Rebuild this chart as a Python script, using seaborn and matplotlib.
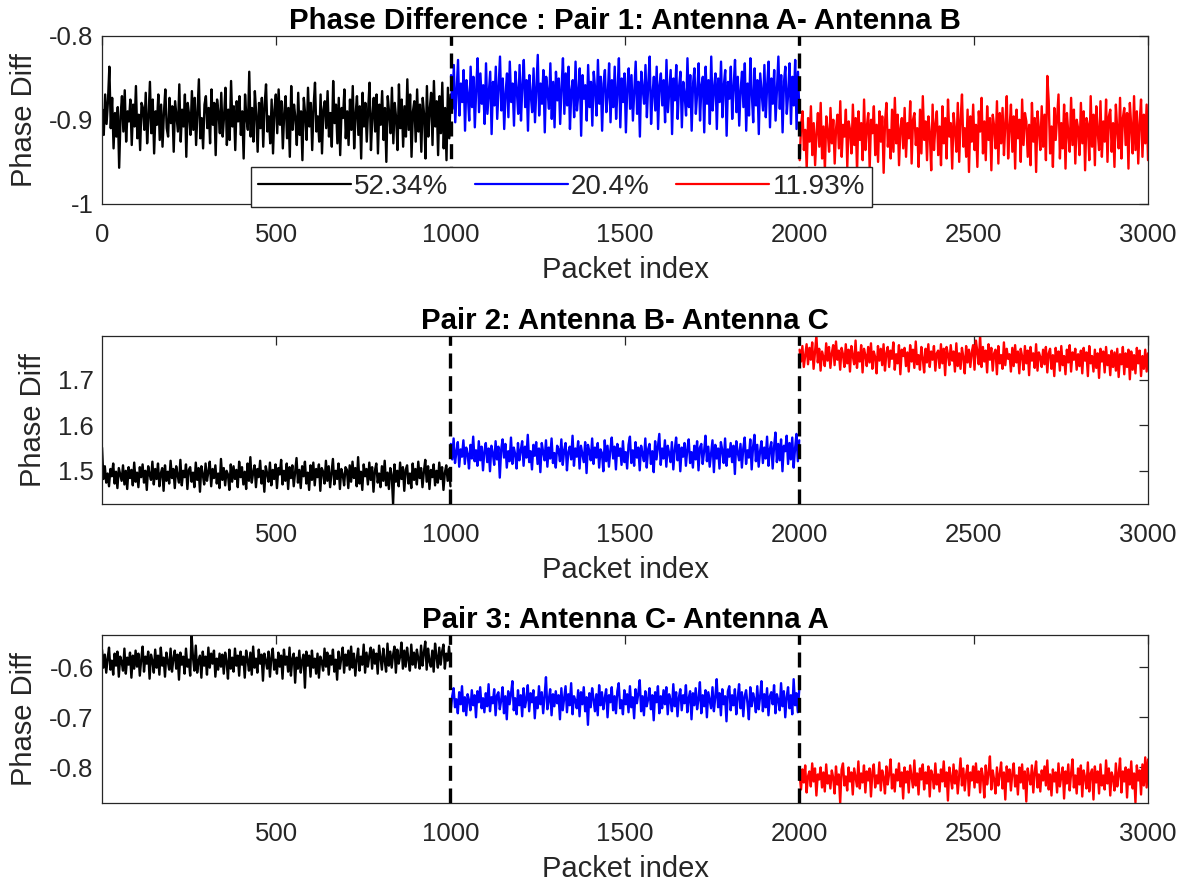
import numpy as np
import pandas as pd
import matplotlib
matplotlib.use("Agg")
import matplotlib.pyplot as plt
from matplotlib.ticker import MultipleLocator, FuncFormatter
import seaborn as sns

# ---------------------------------------------------------------------------
# Data: phase difference per packet for three antenna pairs, recorded in three
# consecutive 1000-packet segments (one colour per segment).
# ---------------------------------------------------------------------------
SEGMENT_LABELS = ["52.34%", "20.4%", "11.93%"]
SEGMENT_COLORS = ["#000000", "#0000ff", "#ff0000"]
SEGMENT_STARTS = [1, 1001, 2001]
SEGMENT_ENDS = [1000, 2000, 3000]
BOUNDARIES = [1000, 2000]

PAIR_TITLES = [
    "Phase Difference : Pair 1: Antenna A- Antenna B",
    "Pair 2: Antenna B- Antenna C",
    "Pair 3: Antenna C- Antenna A",
]

# baseline phase difference (rad) of each segment
PAIR1_BASE = [-0.900, -0.873, -0.918]
PAIR2_BASE = [1.490, 1.535, 1.748]
PAIR3_BASE = [-0.591, -0.668, -0.822]

# per-sample deviation from the segment baseline (mrad), 250 samples/segment
P1_BLACK = [
    12, -18, 30, -5, 22, 63, -10, 26, -34, 8, -20, 15, -57, 4, 28, -14, 35, -26, 10, -2, 24, -30, 18, -8, 40,
    -22, 6, -36, 20, 14, -12, 32, -28, 2, 45, -16, 24, -40, 10, -6, 30, -24, 18, -32, 8, 36, -10, -20, 26, -4,
    16, -38, 22, 4, -14, 42, -26, 12, -8, 30, -44, 20, 6, -18, 34, -12, 26, -30, 10, 48, -22, 2, -34, 18, 28,
    -10, 14, -28, 36, -6, 20, -42, 24, 8, -16, 32, -20, 4, 38, -30, 12, -24, 46, -8, 16, -36, 22, -2, 28, -18,
    10, -46, 30, 2, -12, 57, -20, 14, -26, 34, 6, -38, 20, -10, 26, -32, 18, 42, -14, 4, -28, 24, -40, 12, 30,
    -16, 36, -6, 22, -34, 8, 28, -22, 14, -44, 40, -12, 18, 2, -30, 32, -18, 10, -48, 26, 6, -24, 38, -8, 20,
    -36, 16, 44, -14, 4, -26, 30, -40, 12, 22, -10, 34, -20, 8, -32, 46, -4, 18, -28, 26, -42, 14, 2, 36, -22,
    10, -30, 24, -12, 40, -34, 6, 28, -18, 16, -46, 32, -8, 20, -26, 12, 44, -36, 4, 26, -14, 30, -40, 18, -6,
    34, -24, 14, -50, 28, 8, -16, 38, -28, 20, 2, -36, 42, -10, 24, -32, 16, -20, 48, -12, 30, -44, 10, 22, -26,
    36, -14, 18, -38, 26, 6, -46, 40, -20, 12, 32, -30, 46, -8, 22, -42, 28, -16, 44, -34, 14, -48, 38, -22, 30,
]
P1_BLUE = [
    26, -14, 38, -30, 8, 44, -22, 16, -6, 32, -40, 20, 2, -28, 36, -12, 24, -36, 10, 46, -18, 28, -8, 14, -32,
    40, -20, 6, 30, -44, 18, -10, 36, -26, 12, 48, -16, 22, -38, 4, 28, -24, 42, -6, 16, -34, 30, 8, -20, 38,
    -28, 14, 44, -12, 20, -40, 26, 2, -18, 34, -30, 10, 50, -22, 16, -8, 32, -42, 24, 6, -14, 40, -26, 18, -36,
    30, -4, 22, -32, 12, 46, -20, 28, -10, 36, -38, 8, 20, -24, 42, -16, 4, 34, -46, 26, -2, 14, -28, 38, -12,
    18, -34, 30, 10, -22, 44, -8, 24, -40, 16, 32, -18, 2, 40, -30, 20, -12, 36, -26, 8, 46, -36, 22, -6, 28,
    -42, 12, 34, -14, 26, -28, 6, 42, -20, 18, -47, 30, 10, -8, 38, -24, 16, 48, -32, 4, 24, -16, 36, -38, 14,
    28, -10, 20, -30, 44, -18, 8, 32, -44, 22, -4, 38, -26, 12, 30, -36, 18, 2, -22, 46, -12, 26, -40, 16, 34,
    -20, 6, 40, -28, 14, 24, -42, 36, -8, 20, -32, 48, -16, 10, 28, -38, 22, -6, 42, -24, 14, 32, -46, 18, -2,
    36, -26, 12, 44, -18, 24, -34, 8, 30, -12, 40, -40, 16, -22, 46, 4, -30, 34, -10, 20, -44, 28, 6, -16, 38,
    -24, 14, 42, -36, 22, -8, 32, -28, 10, 48, -14, 26, -42, 18, 36, -20, 4, 40, -32, 24, -10, 44, -38, 30, -18,
]
P1_RED = [
    -30, 12, 28, -18, 6, -40, 20, -8, 34, -24, 14, -36, 2, 26, -14, 38, -28, 10, -42, 22, 4, -20, 32, -10, 18,
    -34, 8, 24, -16, 40, -26, 12, -2, 30, -38, 16, 6, -22, 36, -12, 20, -44, 28, -6, 14, -30, 42, -18, 10, 26,
    -40, 18, 2, 34, -24, 12, -32, 28, -8, 22, -45, 16, 38, -14, 6, -28, 30, -20, 44, -10, 24, -36, 8, 20, -16,
    32, -26, 14, -4, 40, -34, 18, 26, -12, 8, -38, 30, -22, 46, -6, 16, -30, 22, 2, -42, 36, -18, 12, 28, -24,
    10, -36, 34, -10, 20, -28, 42, -2, 14, -40, 26, 6, -20, 38, -32, 18, 48, -14, 8, -26, 30, -44, 22, -8, 36,
    -18, 12, -38, 28, 4, 44, -22, 16, -30, 34, -6, 20, -42, 24, 10, -16, 40, -34, 26, -10, 32, -24, 14, 46, -28,
    8, 36, -20, 22, -40, 30, -4, 18, -32, 42, -12, 26, 16, -26, 12, -36, 38, -8, 20, -44, 28, 6, -18, 34, -14,
    24, -30, 70, 40, -22, 10, -38, 32, -6, 22, 48, -28, 14, -16, 36, -40, 26, 2, -20, 44, -12, 30, -34, 18, 8,
    -24, 38, -10, 28, -42, 20, 12, -30, 46, -14, 24, -36, 34, 4, -18, 40, -26, 16, -8, 42, -32, 22, 30, -20, 14,
    -38, 36, 6, -16, 44, -28, 20, 32, -12, 26, -40, 38, 10, -22, 46, -18, 28, -34, 14, 42, -26, 24, -10, 36, -30,
]
P2_BLACK = [
    61, -8, 20, -16, 4, -24, 14, -2, 26, -18, 8, -28, 16, 2, -12, 22, -20, 10, -30, 18, -6, 12, -22, 28, -14,
    6, -26, 18, -4, 24, -16, 10, -32, 20, 2, -10, 30, -20, 14, -8, 26, -24, 4, 16, -34, 22, -12, 8, -18, 32,
    -6, 14, -28, 20, 0, -16, 34, -22, 10, -4, 24, -30, 12, 18, -14, 6, -26, 28, -10, 16, -36, 20, 2, -20, 26,
    -12, 8, 30, -24, 14, -6, 22, -18, 4, -28, 36, -10, 16, -22, 10, 2, -32, 24, -14, 20, -8, 12, -26, 30, -4,
    18, -20, 8, -30, 26, -12, 40, -16, 6, 22, -26, 14, -4, 32, -18, 10, -36, 20, 4, -14, 28, -22, 12, -8, 24,
    -28, 16, 2, 34, -20, 10, -12, 26, -30, 18, -6, 22, -24, 8, 38, -16, 12, -28, 20, -2, 30, -18, 6, -32, 22,
    -10, 28, -22, 14, -4, 24, -34, 16, 8, -18, 32, -12, 20, -26, 6, 36, -20, 10, -8, 26, -30, 14, 2, -22, 18,
    12, -28, 22, -14, 30, -6, 16, -24, 40, -18, 8, -32, 24, -2, 14, -20, 28, -10, 18, -36, 10, 26, -16, 4, -26,
    20, -12, 32, -22, 6, -30, 16, 2, -63, 24, -14, 10, -24, 28, -8, 18, -34, 12, 22, -18, 4, -28, 26, -10, 14,
    -20, 30, -6, 16, -26, 8, 34, -14, 20, -30, 12, -4, 24, -22, 10, -16, 28, -8, 18, -32, 6, 22, -12, 14, -24,
]
P2_BLUE = [
    24, -10, 36, -18, 6, 28, -26, 12, -4, 32, -20, 16, 2, -30, 22, -8, 40, -14, 10, -24, 30, -12, 18, -34, 8,
    26, -16, 14, -36, 20, 4, -22, 30, -10, 18, -50, 12, 34, -6, 24, -28, 8, -14, 38, -20, 16, 2, -30, 26, -12,
    10, 30, -24, 18, -6, 44, -16, 8, -32, 22, -2, 28, -20, 14, -38, 26, 6, -12, 32, -26, 16, -8, 36, -18, 4,
    -28, 20, 12, -14, 34, -22, 10, 26, -34, 6, 18, -10, 42, -24, 14, -4, 30, -30, 20, 2, -16, 28, -40, 22, 8,
    -12, 36, -20, 16, -6, 26, -28, 12, 4, -36, 32, -14, 20, -26, 10, 38, -8, 18, -32, 24, -2, 14, -22, 30, -16,
    6, -30, 22, 40, -18, 10, -24, 28, -6, 16, -34, 20, 2, -14, 36, -28, 12, 24, -20, 8, -38, 30, -10, 18, 46,
    -22, 14, -8, 32, -26, 20, 4, -16, 28, -32, 10, 38, -12, 22, -36, 16, -4, 26, -24, 12, 34, -18, 6, -28, 20,
    -10, 30, -34, 16, 24, -20, 8, 42, -14, 18, -26, 2, 32, -38, 22, -8, 14, -30, 28, 10, -18, 36, -24, 12, -4,
    26, -16, 20, -42, 30, 6, -12, 24, -28, 14, 38, -20, 10, -6, 34, -32, 18, 44, -14, 22, -26, 8, 30, -18, 16,
    -8, 40, -24, 12, 28, -30, 18, 49, -16, 24, -12, 34, -36, 20, 8, 42, -20, 26, -10, 38, -28, 14, 46, -14, 32,
]
P2_RED = [
    18, -8, 26, -20, 6, 30, -14, 22, -4, 34, -24, 12, 49, -10, 20, -28, 14, 2, -18, 32, -6, 24, -22, 10, 28,
    -16, 36, -4, 16, -26, 22, 8, -20, 30, -12, 18, -30, 26, 4, -14, 38, -22, 12, -8, 28, -32, 20, 6, -18, 24,
    -10, 32, -24, 14, 2, -34, 26, -6, 20, -16, 30, -28, 10, 24, -20, 16, -2, 34, -26, 8, -12, 28, -36, 18, 4,
    22, -18, 12, -30, 28, -8, 18, -22, 36, -14, 6, -26, 24, 0, -32, 20, -10, 30, -20, 14, -4, 26, -28, 10, 16,
    -22, 30, -12, 20, -38, 24, 8, -16, 28, -6, 14, -30, 32, -18, 10, -24, 22, 2, -34, 26, -10, 18, -20, 12, 28,
    -26, 38, 14, -14, 49, -20, 24, -8, 16, -32, 30, -4, 22, -28, 10, 18, -36, 26, -12, 6, -24, 34, -16, 20, -2,
    8, -30, 22, -18, 28, -10, 14, -34, 20, 4, -26, 26, -12, 16, -38, 24, -6, 10, -22, 30, -28, 12, 2, -20, 18,
    -14, 24, -32, 10, 20, -24, 6, -40, 22, -8, 14, -28, 26, -16, 4, -36, 18, -10, 28, -30, 12, -4, 20, -26, 8,
    -18, 16, -34, 22, -6, 12, -40, 26, -12, 4, -30, 18, -22, 10, -44, 20, -8, 14, -32, 24, -16, 6, -38, 16, -20,
    12, -28, 20, -42, 8, -14, 24, -36, 10, -20, 18, -47, 14, -26, 6, -34, 22, -12, 16, -40, 4, -24, 18, -30, 10,
]
P3_BLACK = [
    26, -10, 16, -20, 8, 30, -14, 4, -24, 18, -6, 22, -28, 12, 2, -16, 28, -22, 10, -4, 20, -30, 14, -12, 24,
    -8, 18, -26, 6, 32, -18, 12, -2, 22, -32, 16, 4, -20, 26, -10, 14, -24, 30, -6, 10, -28, 20, 2, -14, 28,
    -18, 8, 24, -12, 16, -34, 20, -4, 12, -22, 28, -8, 6, -26, 56, 10, -16, 34, -20, 4, 14, -30, 22, -6, 12,
    -24, 30, -10, 18, -2, 24, -28, 8, -14, 18, -8, 16, -22, 20, 2, -32, 26, -12, 10, -18, 28, -6, 14, -26, 22,
    -4, 12, -30, 24, 6, -16, 20, -24, 32, -10, 8, -20, 26, -2, 16, -36, 18, 4, -12, 22, -28, 10, 28, -14, 6,
    -22, 20, -8, 14, -32, 26, -4, 12, -18, 30, -26, 8, 18, -40, 10, -12, 24, -20, 4, 16, -50, 22, -6, 14, -28,
    24, -10, 8, -22, 18, -30, 12, 2, -16, 28, -8, 20, -24, 14, -4, 26, -18, 6, -34, 22, -12, 10, 30, -20, 16,
    -6, 24, -14, 32, -10, 18, -26, 6, 28, -16, 12, -4, 36, -20, 20, -8, 14, 30, -12, 26, -2, 18, -22, 34, 10,
    -14, 28, 4, -18, 38, -6, 22, -10, 16, 32, -20, 26, -2, 12, 40, -12, 24, -8, 30, 6, -16, 36, -4, 20, -10,
    26, 8, -12, 34, -6, 20, 42, -14, 28, 2, -8, 24, -18, 38, 12, -10, 30, -4, 22, 36, -12, 18, 4, 32, -6,
]
P3_BLUE = [
    -16, 10, 26, -12, 4, -24, 18, -6, 30, -20, 8, -28, 14, 2, -18, 22, -8, 12, -32, 20, -2, 28, -14, 6, -22,
    16, -10, 34, -20, 8, -4, 24, -28, 12, 18, -16, 2, 28, -24, 10, -36, 20, -6, 14, 40, -18, 6, -26, 22, -8,
    12, -30, 26, -12, 4, 32, -20, 16, -2, 22, -34, 8, -14, 30, -6, 18, -24, 10, 48, -16, 2, 24, -28, 14, -10,
    20, -4, 12, -36, 26, -18, 6, 30, -22, 14, -8, 36, -26, 10, 2, -14, 22, -30, 18, -6, 28, -20, 8, -47, 16,
    -12, 26, 4, -20, 14, -28, 32, -8, 18, -16, 6, 24, -32, 12, -2, 28, -18, 10, -24, 20, 36, -14, 2, -26, 22,
    -6, 14, -22, 30, -12, 8, -34, 24, -4, 16, 42, -20, 10, -28, 20, -10, 4, 26, -16, 12, -38, 18, -2, 30, -24,
    10, -14, 22, -6, 28, -26, 14, 2, -20, 34, -10, 18, -30, 8, 24, -18, 12, -4, 32, -22, 6, 20, -36, 16, -8,
    26, -16, 4, 38, -24, 12, -10, 22, -32, 18, 2, -14, 28, -20, 8, 44, -12, 16, -28, 24, -6, 10, -40, 20, 30,
    -18, 12, -8, 24, -26, 6, 34, -14, 18, -30, 10, 22, -4, -36, 28, -10, 16, 4, -22, 30, -16, 8, 40, -20, 14,
    -12, 26, -28, 10, 18, -6, 32, -24, 14, 2, -18, 36, -10, 20, -32, 8, 28, -14, 12, -26, 44, -8, 16, -22, 24,
]
P3_RED = [
    10, -22, 18, -8, 26, -28, 4, 14, -16, 30, -6, 20, -34, 8, -2, 22, -18, 12, -26, 28, -10, 6, -20, 16, 2,
    -30, 24, -12, 8, -49, 18, 30, -14, 4, -24, 22, -6, 12, -32, 20, 2, -16, 34, -20, 10, -8, 26, -28, 14, -4,
    20, -36, 12, 28, -18, 6, -10, 32, -24, 16, 2, -30, 24, -12, 10, 38, -20, 8, -26, 18, -4, 30, -16, 12, -40,
    22, -8, 14, -28, 26, 4, -18, 36, -14, 10, -32, 20, -2, 28, -22, 12, -10, 24, -36, 16, 6, -20, 30, -12, 8,
    -26, 18, -6, 34, -16, 12, -44, 22, 2, -20, 28, -10, 16, -30, 6, 40, -14, 20, -24, 8, 26, -34, 12, -4, 24,
    -18, 30, -8, 14, -28, 20, 4, -38, 26, -12, 10, 44, -22, 16, -2, -30, 22, -14, 8, 32, -20, 12, -42, 24, -6,
    18, -24, 10, 30, -16, 6, -32, 22, -8, 28, -20, 14, -46, 20, 2, -12, 26, -28, 12, 34, -18, 8, -26, 16, -4,
    24, -14, 36, -22, 8, -34, 18, -6, 12, -28, 30, -16, 4, 22, -40, 14, -10, 28, -24, 10, 38, -18, 6, -30, 20,
    -12, 26, -36, 16, 2, -20, 32, -26, 10, 18, -42, 24, -8, 14, -30, 28, -14, 6, -22, 36, -10, 20, -34, 12, 2,
    -24, 30, -16, 8, 40, -28, 14, -6, 22, -38, 18, -12, 34, -20, 10, -48, 26, -4, 16, -32, 28, -14, 42, -18, 38,
]

PAIR_BASES = [PAIR1_BASE, PAIR2_BASE, PAIR3_BASE]
PAIR_DEVS = [
    [P1_BLACK, P1_BLUE, P1_RED],
    [P2_BLACK, P2_BLUE, P2_RED],
    [P3_BLACK, P3_BLUE, P3_RED],
]


def pair_frame(bases, devs):
    """Long-form table (packet, phase, segment) for one antenna pair."""
    parts = []
    for k, (base, dev) in enumerate(zip(bases, devs)):
        dev = np.asarray(dev, dtype=float)
        packet = np.linspace(SEGMENT_STARTS[k], SEGMENT_ENDS[k], dev.size)
        parts.append(pd.DataFrame({
            "packet": packet,
            "phase": base + dev / 1000.0,
            "segment": SEGMENT_LABELS[k],
        }))
    return pd.concat(parts, ignore_index=True)


# ---------------------------------------------------------------------------
# Styling
# ---------------------------------------------------------------------------
sns.set_theme(style="white")
plt.rcParams["font.family"] = ["Liberation Sans", "DejaVu Sans"]
AX_COLOR = "#262626"

fig = plt.figure(figsize=(11.96, 8.88), dpi=100)
AX_LEFT, AX_WIDTH, AX_HEIGHT = 0.0853, 0.8746, 0.1897
AX_BOTTOMS = [0.7703, 0.4324, 0.0957]

fmt = FuncFormatter(lambda v, _: f"{v:g}")

for p in range(3):
    ax = fig.add_axes([AX_LEFT, AX_BOTTOMS[p], AX_WIDTH, AX_HEIGHT])
    df = pair_frame(PAIR_BASES[p], PAIR_DEVS[p])
    for k, label in enumerate(SEGMENT_LABELS):
        seg = df[df["segment"] == label]
        sns.lineplot(data=seg, x="packet", y="phase", color=SEGMENT_COLORS[k],
                     linewidth=1.7, errorbar=None, ax=ax,
                     label=label if p == 0 else None, legend=False)

    for b in BOUNDARIES:
        ax.axvline(b, color="black", linewidth=2.4, linestyle=(0, (4.5, 2.3)),
                   zorder=3)

    if p == 0:
        ax.set_xlim(0, 3000)
        ax.set_ylim(-1.0, -0.8)
    else:
        ax.set_xlim(1, 3000)
        ax.set_ylim(df["phase"].min(), df["phase"].max())
    ax.yaxis.set_major_locator(MultipleLocator(0.1))
    ax.xaxis.set_major_locator(MultipleLocator(500))
    ax.xaxis.set_major_formatter(fmt)
    ax.yaxis.set_major_formatter(fmt)

    ax.tick_params(axis="both", direction="in", length=6.5, width=0.9,
                   top=True, right=True, labelsize=18.5, colors=AX_COLOR,
                   labelcolor=AX_COLOR)
    ax.tick_params(axis="x", pad=14)
    ax.tick_params(axis="y", pad=6)
    for sp in ax.spines.values():
        sp.set_color(AX_COLOR)
        sp.set_linewidth(0.9)

    ax.set_title(PAIR_TITLES[p], fontsize=21.2, fontweight="bold",
                 color="black", pad=5)
    ax.set_xlabel("Packet index", fontsize=21, color=AX_COLOR, labelpad=6)
    ax.set_ylabel("Phase Diff", fontsize=21, color=AX_COLOR, labelpad=8)

    if p == 0:
        leg = ax.legend(loc="center", bbox_to_anchor=(0.439, 0.101), ncol=3,
                        fontsize=20, frameon=True, fancybox=False,
                        edgecolor=AX_COLOR, framealpha=1.0,
                        handlelength=3.35, handletextpad=0.12,
                        columnspacing=0.95, borderpad=0.25, borderaxespad=0.0)
        leg.get_frame().set_linewidth(1.0)
        for line in leg.get_lines():
            line.set_linewidth(1.6)
        leg.set_zorder(5)

fig.savefig("out.png", dpi=100)
